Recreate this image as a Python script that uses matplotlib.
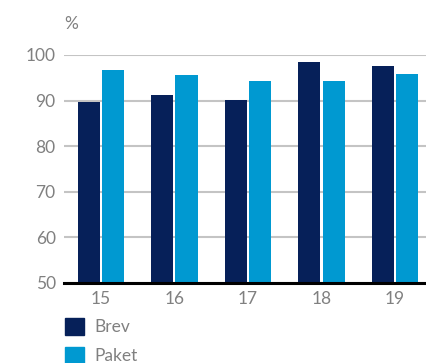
import matplotlib
matplotlib.use("Agg")
from matplotlib import pyplot as plt
from matplotlib.patches import Patch
import numpy as np

ar = ["15", "16", "17", "18", "19"]
brev = [89.7, 91.2, 90.1, 98.5, 97.6]
paket = [96.7, 95.6, 94.3, 94.3, 95.8]

morkbla = "#062059"
ljusbla = "#0099d1"
gra = "#808080"

plt.rcParams["font.family"] = ["Lato", "DejaVu Sans"]

fig = plt.figure(figsize=(4.27, 3.63), dpi=100)
ax = fig.add_axes([0.15, 0.2204, 0.85, 0.6281])

x = np.arange(len(ar))
b = 0.3
ax.bar(x - 0.165, brev, width=b, color=morkbla, zorder=3)
ax.bar(x + 0.165, paket, width=b, color=ljusbla, zorder=3)

ax.set_ylim(50, 100)
ax.set_xlim(-0.5, 4.435)
ax.set_yticks([50, 60, 70, 80, 90, 100])
ax.set_xticks(x)
ax.set_xticklabels(ar)
ax.yaxis.grid(True, color="#c4c4c4", linewidth=1.5, zorder=0)
ax.set_axisbelow(True)
for s in ["top", "right", "left"]:
    ax.spines[s].set_visible(False)
ax.spines["bottom"].set_color("black")
ax.spines["bottom"].set_linewidth(2.2)
ax.spines["bottom"].set_zorder(4)
ax.tick_params(axis="both", length=0, labelsize=12.5, labelcolor=gra)
ax.tick_params(axis="y", pad=6)
ax.tick_params(axis="x", pad=6)
for t in ax.get_yticklabels() + ax.get_xticklabels():
    t.set_clip_on(False)

fig.text(64 / 427, 1 - 24 / 363, "%", fontsize=12.5, color=gra, va="center", ha="left")

handles = [Patch(color=morkbla, label="Brev"), Patch(color=ljusbla, label="Paket")]
fig.legend(handles=handles, loc="upper left", bbox_to_anchor=(62 / 427, 1 - 315 / 363),
           frameon=False, fontsize=12.5, labelcolor=gra, handlelength=1.05,
           handleheight=1.05, handletextpad=0.6, labelspacing=0.68, borderaxespad=0,
           borderpad=0.2)

fig.savefig("out.png", dpi=100)
